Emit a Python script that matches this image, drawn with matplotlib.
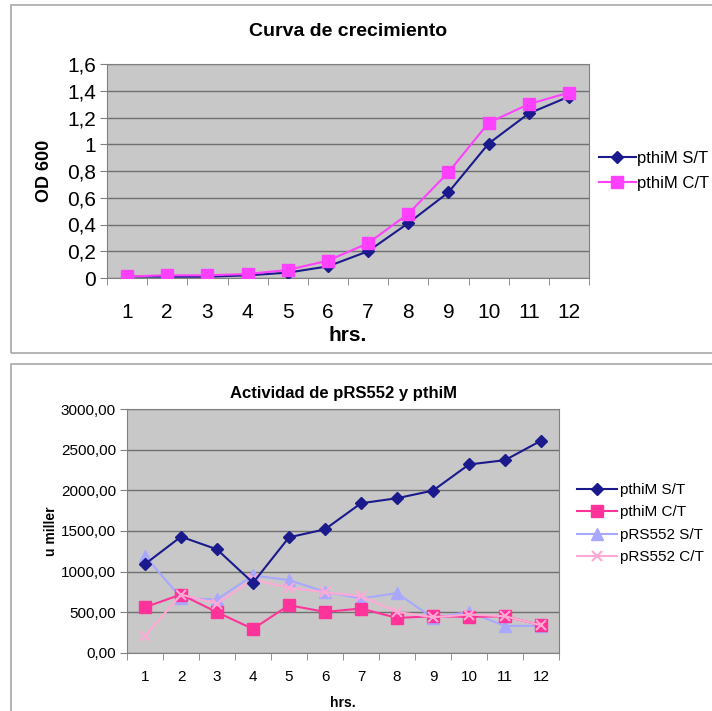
import matplotlib
matplotlib.use("Agg")
import matplotlib.pyplot as plt
from matplotlib.patches import Rectangle
from matplotlib.ticker import FuncFormatter, FixedLocator

hrs = list(range(1, 13))

# Curva de crecimiento (OD 600)
od_st = [0.012, 0.01, 0.01, 0.02, 0.04, 0.087, 0.20, 0.41, 0.64, 1.005, 1.23, 1.356]
od_ct = [0.012, 0.02, 0.02, 0.03, 0.06, 0.13, 0.26, 0.48, 0.79, 1.16, 1.30, 1.386]

# Actividad (u miller)
act_pthim_st = [1093, 1430, 1274, 863, 1422, 1521, 1841, 1903, 1997, 2318, 2371, 2610]
act_pthim_ct = [563, 719, 501, 296, 588, 505, 547, 431, 452, 444, 452, 341]
act_prs_st = [1192, 678, 658, 953, 896, 752, 670, 736, 431, 505, 333, 333]
act_prs_ct = [210, 719, 608, 904, 801, 748, 699, 505, 440, 473, 452, 341]

W, H = 712, 711
fig = plt.figure(figsize=(W / 100, H / 100), dpi=100)
narrow = ["Liberation Sans Narrow", "Liberation Sans", "DejaVu Sans"]
plain = ["Liberation Sans", "DejaVu Sans"]

def px_axes(x0, x1, ytop, ybot):
    return fig.add_axes([x0 / W, 1 - ybot / H, (x1 - x0) / W, (ybot - ytop) / H])

# outer boxes
fig.patches.append(Rectangle((11 / W, 1 - 353 / H), 720 / W, 348 / H, transform=fig.transFigure,
                             fill=False, edgecolor="#a8a8a8", lw=1.2))
fig.patches.append(Rectangle((11 / W, 1 - 730 / H), 720 / W, 366 / H, transform=fig.transFigure,
                             fill=False, edgecolor="#a8a8a8", lw=1.2))

def style(ax, fs, family, xpad):
    ax.set_facecolor("#c8c8c8")
    for s in ax.spines.values():
        s.set_color("#808080")
    ax.set_xlim(0.5, 12.5)
    ax.xaxis.set_major_locator(FixedLocator(hrs))
    ax.xaxis.set_minor_locator(FixedLocator([i + 0.5 for i in range(0, 13)]))
    ax.tick_params(axis="x", which="major", length=0, pad=xpad)
    ax.tick_params(axis="x", which="minor", length=5, color="#808080", direction="out")
    ax.tick_params(axis="y", length=5, color="#808080", direction="out", pad=3)
    ax.grid(axis="y", color="#707070", lw=1)
    ax.set_axisbelow(True)
    for lab in ax.get_xticklabels() + ax.get_yticklabels():
        lab.set_family(family)
        lab.set_fontsize(fs)

# ---- top chart
ax1 = px_axes(107, 589, 64, 278)
ax1.plot(hrs, od_st, color="#1a1a8c", marker="D", ms=6, lw=1.5, label="pthiM S/T", zorder=3)
ax1.plot(hrs, od_ct, color="#ff40ff", marker="s", ms=8, lw=1.5, label="pthiM C/T", zorder=4)
ax1.set_ylim(0, 1.6)
ax1.set_yticks([0, 0.2, 0.4, 0.6, 0.8, 1.0, 1.2, 1.4, 1.6])
ax1.yaxis.set_major_formatter(FuncFormatter(lambda v, p: ("%g" % round(v, 1)).replace(".", ",")))
style(ax1, 15, narrow, 18)
ax1.set_title("Curva de crecimiento", family=narrow, fontsize=14, fontweight="bold", pad=20)
ax1.set_xlabel("hrs.", family=narrow, fontsize=15, fontweight="bold", labelpad=3)
ax1.set_ylabel("OD 600", family=plain, fontsize=13, fontweight="bold", labelpad=10)
ax1.legend(loc="center left", bbox_to_anchor=(1.0, 0.5), frameon=False,
           prop={"family": narrow, "size": 12}, handlelength=2.2, handletextpad=0.1,
           borderaxespad=0.2, labelspacing=0.6)

# ---- bottom chart
ax2 = px_axes(127, 559, 409, 653)
ax2.plot(hrs, act_pthim_st, color="#1a1a8c", marker="D", ms=6, lw=1.5, label="pthiM S/T", zorder=4)
ax2.plot(hrs, act_pthim_ct, color="#ff3399", marker="s", ms=8, lw=1.5, label="pthiM C/T", zorder=3)
ax2.plot(hrs, act_prs_st, color="#a8a8ff", marker="^", ms=8, lw=1.5, label="pRS552 S/T", zorder=2)
ax2.plot(hrs, act_prs_ct, color="#ffaad4", marker="x", ms=7, mew=1.5, lw=1.5, label="pRS552 C/T", zorder=3)
ax2.set_ylim(0, 3000)
ax2.set_yticks([0, 500, 1000, 1500, 2000, 2500, 3000])
ax2.yaxis.set_major_formatter(FuncFormatter(lambda v, p: ("%.2f" % v).replace(".", ",")))
style(ax2, 11, plain, 12)
ax2.set_title("Actividad de pRS552 y pthiM", family=plain, fontsize=12, fontweight="bold", pad=8)
ax2.set_xlabel("hrs.", family=plain, fontsize=10, fontweight="bold", labelpad=9)
ax2.set_ylabel("u miller", family=plain, fontsize=10, fontweight="bold", labelpad=2)
ax2.legend(loc="center left", bbox_to_anchor=(1.02, 0.53), frameon=False,
           prop={"family": plain, "size": 11}, handlelength=2.6, handletextpad=0.2,
           borderaxespad=0.2, labelspacing=0.55)

fig.savefig("out.png", dpi=100)
